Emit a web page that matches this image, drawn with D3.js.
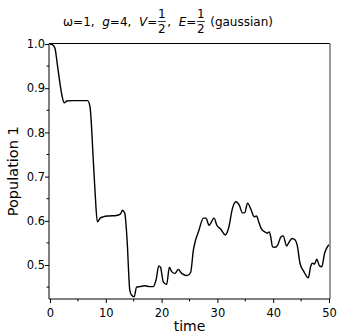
<!DOCTYPE html>
<html>
<head>
<meta charset="utf-8">
<script src="https://cdn.jsdelivr.net/npm/d3@7"></script>
<style>
  body { margin: 0; background: #fff; }
  svg { display: block; font-family: "DejaVu Sans", sans-serif; }
</style>
</head>
<body>
<div id="chart-area"></div>
<script>
var width = 337;
var height = 336;

// data
var times = [0, 0.5, 0.9, 1.3, 1.8, 2.2, 2.56, 3.0, 4.0, 5.0, 6.0, 6.75, 7.17, 7.76, 8.1, 8.48,
  9.0, 9.55, 10.5, 11.9, 12.6, 13.0, 13.4, 13.8, 14.3, 14.6, 15.1, 15.5, 16.1, 17.0, 17.9,
  18.5, 19.0, 19.5, 19.8, 20.3, 20.9, 21.4, 21.8, 22.4, 23.0, 23.6, 24.6, 25.2, 25.7, 26.1,
  26.6, 27.5, 27.96, 28.5, 29.4, 29.9, 30.6, 31.4, 32.0, 32.7, 33.3, 33.9, 34.5, 34.9, 35.4,
  36.0, 36.6, 37.0, 37.4, 37.9, 38.5, 38.9, 39.3, 39.55, 39.9, 40.3, 40.8, 41.4, 41.8, 42.4,
  42.9, 43.4, 43.9, 44.3, 44.8, 45.5, 46.3, 46.7, 47.0, 47.4, 47.8, 48.3, 48.7, 49.2, 49.8, 50];
var pop1 = [1.0, 0.998, 0.99, 0.955, 0.91, 0.88, 0.867, 0.871, 0.872, 0.872, 0.872, 0.872, 0.858, 0.737, 0.66, 0.598,
  0.606, 0.609, 0.611, 0.612, 0.615, 0.624, 0.617, 0.56, 0.443, 0.432, 0.428, 0.45, 0.451, 0.453, 0.451,
  0.451, 0.466, 0.498, 0.495, 0.462, 0.456, 0.495, 0.485, 0.481, 0.49, 0.481, 0.476, 0.483, 0.534, 0.557,
  0.575, 0.606, 0.606, 0.590, 0.606, 0.590, 0.581, 0.568, 0.583, 0.628, 0.643, 0.636, 0.618, 0.618, 0.640,
  0.626, 0.609, 0.611, 0.598, 0.581, 0.575, 0.572, 0.575, 0.564, 0.541, 0.540, 0.545, 0.564, 0.566, 0.543,
  0.553, 0.560, 0.557, 0.545, 0.504, 0.485, 0.471, 0.496, 0.504, 0.502, 0.513, 0.498, 0.496, 0.526, 0.543, 0.546];
var xTicks = [0, 10, 20, 30, 40, 50];
var xMinor = [5, 15, 25, 35, 45];
var yTicks = [0.5, 0.6, 0.7, 0.8, 0.9, 1.0];
var yMinor = [0.45, 0.55, 0.65, 0.75, 0.85, 0.95];

var data = times.map((t, i) => ({ t: t, v: pop1[i] }));

var frame = { left: 49, right: 330, top: 43.5, bottom: 299 };

var svg = d3.select("#chart-area")
    .append("svg")
    .attr("width", width)
    .attr("height", height);

var x = d3.scaleLinear().domain([0, 50]).range([50, 329]);
var y = d3.scaleLinear().domain([0.5, 1.0]).range([265, 44]);

// frame
svg.append("line")
    .attr("x1", frame.left).attr("x2", frame.right)
    .attr("y1", frame.top).attr("y2", frame.top)
    .attr("stroke", "#000");
svg.append("line")
    .attr("x1", frame.right).attr("x2", frame.right)
    .attr("y1", frame.top).attr("y2", frame.bottom)
    .attr("stroke", "#777").attr("stroke-width", 1.5);

// x axis
var xAxis = svg.append("g")
    .attr("transform", `translate(0, ${frame.bottom})`)
    .call(d3.axisBottom(x).tickValues(xTicks).tickSize(4).tickFormat(d3.format("d")));
xAxis.select(".domain").remove();
xAxis.selectAll("text").attr("font-size", "11.5px").attr("font-family", "DejaVu Sans").attr("dy", "0.95em");
xAxis.selectAll(".minor")
    .data(xMinor).enter().append("line")
    .attr("x1", d => x(d)).attr("x2", d => x(d))
    .attr("y1", 0).attr("y2", 2.5).attr("stroke", "#000");
xAxis.append("line")
    .attr("x1", frame.left).attr("x2", frame.right)
    .attr("stroke", "#000");

// y axis
var yAxis = svg.append("g")
    .attr("transform", `translate(${frame.left}, 0)`)
    .call(d3.axisLeft(y).tickValues(yTicks).tickSize(4).tickFormat(d3.format(".1f")));
yAxis.select(".domain").remove();
yAxis.selectAll("text").attr("font-size", "11.5px").attr("font-family", "DejaVu Sans").attr("x", -4);
yAxis.selectAll(".minor")
    .data(yMinor).enter().append("line")
    .attr("y1", d => y(d)).attr("y2", d => y(d))
    .attr("x1", 0).attr("x2", -2.5).attr("stroke", "#000");
yAxis.append("line")
    .attr("y1", frame.top).attr("y2", frame.bottom)
    .attr("stroke", "#000");

// curve
var line = d3.line()
    .x(d => x(d.t))
    .y(d => y(d.v))
    .curve(d3.curveMonotoneX);

svg.append("path")
    .datum(data)
    .attr("d", line)
    .attr("fill", "none")
    .attr("stroke", "#000")
    .attr("stroke-width", 1.4);

// axis labels
svg.append("text")
    .attr("x", (frame.left + frame.right) / 2)
    .attr("y", 331)
    .attr("text-anchor", "middle")
    .attr("font-size", "14px")
    .text("time");

svg.append("text")
    .attr("transform", `translate(18, ${(frame.top + frame.bottom) / 2}) rotate(-90)`)
    .attr("text-anchor", "middle")
    .attr("font-size", "14.5px")
    .text("Population 1");

// title with stacked fractions
var title = svg.append("g").attr("font-size", "12px");
var parts = [
  { t: "\u03c9=1,  ", it: false },
  { t: "g", it: true },
  { t: "=4,  ", it: false },
  { t: "V", it: true },
  { t: "=", it: false },
  { frac: true },
  { t: ",  ", it: false },
  { t: "E", it: true },
  { t: "=", it: false },
  { frac: true },
  { t: " (gaussian)", it: false }
];
var cx = 0, baseY = 25.5;
parts.forEach(p => {
  if (p.frac) {
    var fw = 9;
    title.append("text").attr("x", cx + fw / 2).attr("y", baseY - 8)
        .attr("text-anchor", "middle").text("1");
    title.append("line").attr("x1", cx + 0.5).attr("x2", cx + fw - 0.5)
        .attr("y1", baseY - 4).attr("y2", baseY - 4).attr("stroke", "#000").attr("stroke-width", 0.8);
    title.append("text").attr("x", cx + fw / 2).attr("y", baseY + 7.5)
        .attr("text-anchor", "middle").text("2");
    cx += fw + 1;
  } else {
    var tx = title.append("text").attr("x", cx).attr("y", baseY)
        .attr("xml:space", "preserve")
        .style("white-space", "pre")
        .attr("font-style", p.it ? "italic" : "normal")
        .text(p.t);
    cx += tx.node().getComputedTextLength();
  }
});
title.attr("transform", `translate(${168 - cx / 2}, 0)`);
</script>
</body>
</html>
